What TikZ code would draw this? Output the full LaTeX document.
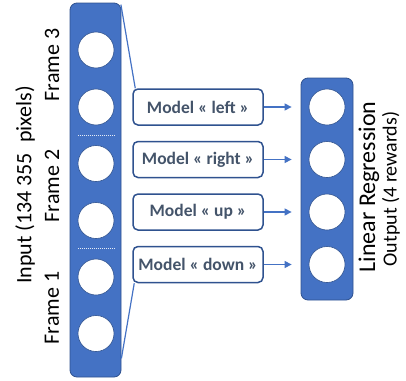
\documentclass[tikz,border=0pt]{standalone}
\usepackage{fontspec}
\setmainfont{Carlito}
\usetikzlibrary{arrows.meta,calc}
\definecolor{layerblue}{HTML}{4472C4}
\definecolor{layeredge}{HTML}{2F528F}
\definecolor{slate}{HTML}{44546A}
\begin{document}
\begin{tikzpicture}[x=1pt,y=-1pt,
  layer/.style={draw=layeredge,line width=0.8pt,fill=layerblue,rounded corners=7pt,inner sep=0pt},
  neuron/.style={circle,draw=layeredge,line width=0.6pt,fill=white,minimum size=36pt,inner sep=0pt},
  modelbox/.style={draw=layeredge,line width=1.5pt,fill=white,rounded corners=5pt,minimum width=130pt,minimum height=36pt,inner sep=0pt,font=\fontsize{17.5pt}{20pt}\selectfont\bfseries,text=slate},
  link/.style={draw=layerblue,line width=1.2pt},
  feed/.style={link,-{Triangle[length=7pt,width=7pt]}},
  sepline/.style={draw=white!85!layerblue,line width=1pt,dash pattern=on 1pt off 1pt},
  vlabel/.style={rotate=90,inner sep=0pt}]
\useasboundingbox (0,0) rectangle (406,380);

% input layer: three stacked frames of two units each
\node[layer,minimum width=51pt,minimum height=374pt] (inp) at (95.5,190) {};
\foreach \i/\y in {1/50,2/107,3/163.5,4/220.5,5/277,6/333.5}
  \node[neuron] (i\i) at (96,\y) {};
\draw[sepline] ($(i2)!.5!(i3)$) ++(-18,0) -- ++(37,0);
\draw[sepline] ($(i4)!.5!(i5)$) ++(-18,0) -- ++(37,0);

% output layer
\node[layer,minimum width=52pt,minimum height=222pt] (out) at (327,189) {};
\foreach \i/\y in {1/107,2/159.5,3/212,4/264.5}
  \node[neuron] (o\i) at (327,\y) {};

% one model per action
\node[modelbox] (m1) at (198,107) {Model « left »};
\node[modelbox] (m2) at (198,159.5) {Model « right »};
\node[modelbox] (m3) at (198,212) {Model « up »};
\node[modelbox] (m4) at (198,264.5) {Model « down »};

% fan-in from the input layer
\draw[link] ($(inp.north east)+(-0.5,2)$) -- ($(m1.north west)+(3,0)$);
\draw[link] ($(inp.south east)+(0,-19)$) -- ($(m4.south west)+(2,0)$);

% model outputs feed the regression units
\foreach \i in {1,...,4}
  \draw[feed] (m\i.east) -- ($(out.west|-o\i)+(-9,0)$);

% labels
\node[vlabel,font=\fontsize{22pt}{24pt}\selectfont] (f3) at (52,65) {Frame 3};
\node[vlabel,font=\fontsize{22pt}{24pt}\selectfont] (f2) at (52,186) {Frame 2};
\node[vlabel,font=\fontsize{22pt}{24pt}\selectfont] (f1) at (52,308) {Frame 1};
\node[vlabel,font=\fontsize{22pt}{24pt}\selectfont] (inlab) at (25,185) {Input (134 355 \ pixels)};
\node[vlabel,font=\fontsize{24pt}{26pt}\selectfont] (linreg) at (369,187) {Linear Regression};
\node[vlabel,font=\fontsize{20pt}{22pt}\selectfont] (outlab) at (391,189) {Output (4 rewards)};
\end{tikzpicture}
\end{document}
